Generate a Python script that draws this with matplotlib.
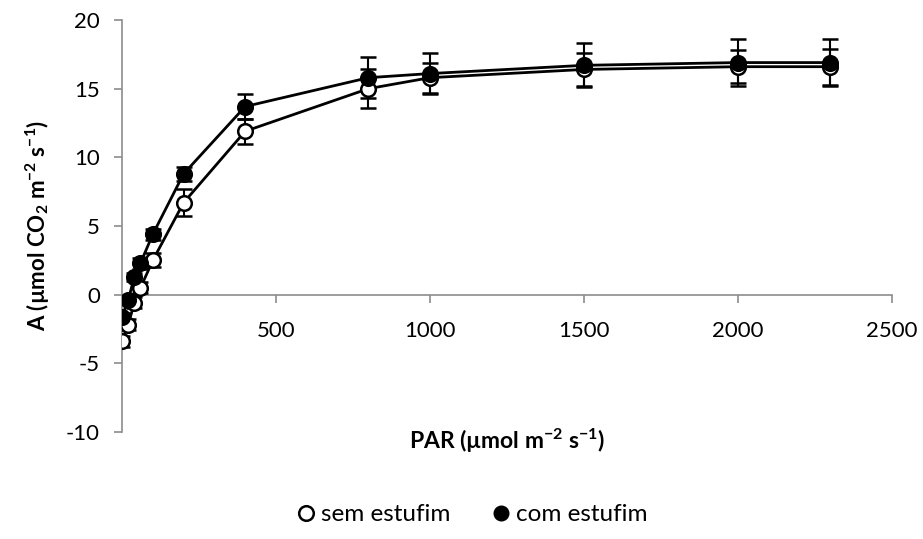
import matplotlib
matplotlib.use("Agg")
import matplotlib.pyplot as plt
from matplotlib.lines import Line2D

par = [0, 20, 40, 60, 100, 200, 400, 800, 1000, 1500, 2000, 2300]

sem_estufim = [-3.4, -2.2, -0.6, 0.5, 2.5, 6.7, 11.9, 15.0, 15.8, 16.4, 16.6, 16.6]
sem_err = [0.4, 0.4, 0.4, 0.4, 0.5, 1.0, 0.9, 1.4, 1.1, 1.2, 1.2, 1.3]

com_estufim = [-1.6, -0.4, 1.3, 2.3, 4.4, 8.8, 13.7, 15.8, 16.1, 16.7, 16.9, 16.9]
com_err = [0.3, 0.3, 0.3, 0.4, 0.4, 0.5, 0.9, 1.5, 1.5, 1.6, 1.7, 1.7]

xticks = [500, 1000, 1500, 2000, 2500]
yticks = [-10, -5, 0, 5, 10, 15, 20]

plt.rcParams["font.family"] = ["Lato", "DejaVu Sans"]
plt.rcParams["axes.unicode_minus"] = False
plt.rcParams["mathtext.fontset"] = "custom"
plt.rcParams["mathtext.bf"] = "Lato:bold"
plt.rcParams["mathtext.rm"] = "Lato:bold"
plt.rcParams["mathtext.default"] = "bf"

AXIS_GRAY = "#8c8c8c"

fig = plt.figure(figsize=(9.23, 5.39), dpi=100)
ax = fig.add_axes([0.1322, 0.1985, 0.8342, 0.7644])

for y, err, face in [(sem_estufim, sem_err, "white"), (com_estufim, com_err, "black")]:
    ax.errorbar(par, y, yerr=err, color="black", lw=2, elinewidth=1.5,
                capsize=5.5, capthick=1.5, marker="o", ms=10.5,
                mfc=face, mec="black", mew=1.8, zorder=3)

ax.set_xlim(0, 2500)
ax.set_ylim(-10, 20)
ax.set_xticks(xticks)
ax.set_yticks(yticks)

for side in ("top", "right"):
    ax.spines[side].set_visible(False)
ax.spines["bottom"].set_position(("data", 0))
for side in ("left", "bottom"):
    ax.spines[side].set_color(AXIS_GRAY)
    ax.spines[side].set_linewidth(1.2)
ax.tick_params(axis="both", colors=AXIS_GRAY, labelcolor="black",
               labelsize=16, length=6, width=1.2, direction="out")
ax.tick_params(axis="x", pad=13)
ax.tick_params(axis="y", pad=10)

ax.set_ylabel(r"A (µmol CO$_{2}$ m$^{-2}$ s$^{-1}$)", fontsize=16,
              fontweight="bold", labelpad=10)
fig.text(0.549, 0.183, r"PAR (µmol m$^{-2}$ s$^{-1}$)", fontsize=16.5,
         fontweight="bold", ha="center", va="center")

handles = [
    Line2D([], [], ls="none", marker="o", ms=10.5, mfc="white", mec="black", mew=1.8),
    Line2D([], [], ls="none", marker="o", ms=10.5, mfc="black", mec="black"),
]
fig.legend(handles, ["sem estufim", "com estufim"], loc="center",
           bbox_to_anchor=(0.51, 0.045), ncol=2, frameon=False, fontsize=17.5,
           handletextpad=0.1, columnspacing=1.6, handlelength=1.0)

fig.savefig("out.png", dpi=100)
